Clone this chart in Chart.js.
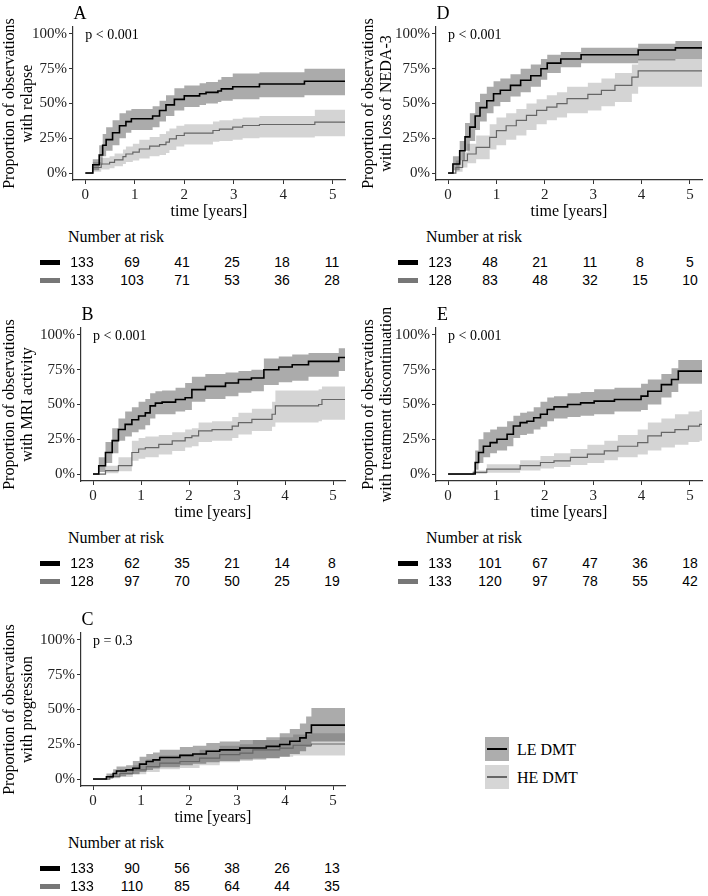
<!doctype html>
<html lang="en">
	<head>
		<meta charset="UTF-8" />
		<title>Cumulative incidence by DMT group</title>
		<script src="https://cdn.jsdelivr.net/npm/chart.js"></script>
		<style>
			body {
				margin: 0;
				background: #fff;
			}
			#page {
				position: relative;
				width: 708px;
				height: 896px;
				overflow: hidden;
				font-family: 'Liberation Serif', 'Times New Roman', serif;
				color: #000;
			}
			canvas {
				position: absolute;
			}
			.ctr {
				position: absolute;
				white-space: nowrap;
				line-height: 1;
				transform: translate(-50%, -50%);
			}
			.lft {
				position: absolute;
				white-space: nowrap;
				line-height: 1;
				transform: translateY(-50%);
			}
			.num {
				font-family: 'Liberation Sans', Arial, sans-serif;
				font-size: 14px;
			}
			.bar {
				position: absolute;
				width: 20px;
				height: 5px;
			}
			.key {
				position: absolute;
				width: 24px;
				height: 24px;
			}
			.key div {
				position: absolute;
				left: 2px;
				right: 2px;
				top: 11px;
			}
		</style>
	</head>
	<body>
		<div id="page"></div>

		<script>
			// axis ticks
			const xTicks = [0, 1, 2, 3, 4, 5]
			const yTicks = [0, 0.25, 0.5, 0.75, 1]

			// A - relapse
			const aTimeLE = [0, 0.15, 0.28, 0.35, 0.42, 0.55, 0.69, 0.82, 0.93, 1.36, 1.5, 1.63, 1.8, 2.0, 2.31, 2.44, 2.68, 2.75, 2.98, 3.52, 4.43, 5.25]
			const aEstLE = [0, 0.06, 0.13, 0.2, 0.24, 0.29, 0.34, 0.37, 0.39, 0.41, 0.45, 0.49, 0.53, 0.555, 0.57, 0.58, 0.59, 0.605, 0.62, 0.64, 0.66, 0.66]
			const aHiLE = [0, 0.1, 0.2, 0.28, 0.33, 0.38, 0.43, 0.45, 0.46, 0.48, 0.52, 0.56, 0.61, 0.63, 0.645, 0.655, 0.67, 0.69, 0.715, 0.725, 0.75, 0.75]
			const aLoLE = [0, 0.02, 0.06, 0.12, 0.16, 0.2, 0.25, 0.29, 0.31, 0.33, 0.37, 0.41, 0.45, 0.475, 0.49, 0.5, 0.51, 0.52, 0.53, 0.545, 0.56, 0.56]
			const aTimeHE = [0, 0.15, 0.32, 0.49, 0.59, 0.76, 0.82, 0.96, 1.09, 1.3, 1.5, 1.63, 1.7, 1.84, 2.0, 2.58, 2.71, 2.98, 3.18, 3.52, 4.64, 5.25]
			const aEstHE = [0, 0.04, 0.065, 0.077, 0.094, 0.118, 0.137, 0.15, 0.173, 0.193, 0.205, 0.222, 0.246, 0.27, 0.287, 0.306, 0.316, 0.33, 0.342, 0.349, 0.366, 0.366]
			const aHiHE = [0, 0.08, 0.11, 0.12, 0.14, 0.17, 0.19, 0.21, 0.24, 0.26, 0.28, 0.3, 0.32, 0.34, 0.35, 0.37, 0.38, 0.39, 0.4, 0.41, 0.455, 0.455]
			const aLoHE = [0, 0.01, 0.025, 0.035, 0.048, 0.065, 0.08, 0.09, 0.105, 0.12, 0.13, 0.145, 0.165, 0.19, 0.205, 0.225, 0.23, 0.24, 0.25, 0.255, 0.265, 0.265]
			const aRiskLE = [133, 69, 41, 25, 18, 11]
			const aRiskHE = [133, 103, 71, 53, 36, 28]

			// B - MRI activity
			const bTimeLE = [0, 0.12, 0.26, 0.4, 0.53, 0.67, 0.81, 0.95, 1.09, 1.19, 1.3, 1.44, 1.72, 1.92, 2.06, 2.34, 2.76, 3.03, 3.3, 3.56, 3.87, 4.15, 4.49, 5.12, 5.25]
			const bEstLE = [0, 0.06, 0.155, 0.24, 0.32, 0.357, 0.39, 0.417, 0.44, 0.49, 0.51, 0.517, 0.536, 0.548, 0.607, 0.63, 0.655, 0.68, 0.69, 0.75, 0.77, 0.786, 0.81, 0.838, 0.838]
			const bHiLE = [0, 0.12, 0.23, 0.33, 0.4, 0.45, 0.48, 0.52, 0.54, 0.58, 0.595, 0.6, 0.62, 0.655, 0.7, 0.72, 0.73, 0.74, 0.75, 0.83, 0.845, 0.86, 0.87, 0.905, 0.905]
			const bLoLE = [0, 0.015, 0.08, 0.15, 0.24, 0.27, 0.3, 0.32, 0.35, 0.4, 0.43, 0.43, 0.45, 0.46, 0.52, 0.54, 0.56, 0.585, 0.595, 0.64, 0.66, 0.67, 0.7, 0.74, 0.74]
			const bTimeHE = [0, 0.26, 0.53, 0.81, 0.95, 1.09, 1.37, 1.65, 1.92, 2.06, 2.2, 2.48, 2.9, 3.03, 3.31, 3.73, 3.8, 4.7, 4.77, 5.25]
			const bEstHE = [0, 0.024, 0.06, 0.155, 0.18, 0.19, 0.214, 0.238, 0.262, 0.274, 0.31, 0.32, 0.345, 0.37, 0.393, 0.43, 0.49, 0.5, 0.536, 0.536]
			const bHiHE = [0, 0.06, 0.12, 0.24, 0.26, 0.27, 0.28, 0.3, 0.32, 0.33, 0.37, 0.38, 0.41, 0.44, 0.47, 0.52, 0.6, 0.61, 0.63, 0.63]
			const bLoHE = [0, 0.005, 0.02, 0.095, 0.11, 0.12, 0.14, 0.165, 0.19, 0.2, 0.23, 0.24, 0.26, 0.285, 0.31, 0.34, 0.37, 0.38, 0.39, 0.39]
			const bRiskLE = [123, 62, 35, 21, 14, 8]
			const bRiskHE = [128, 97, 70, 50, 25, 19]

			// C - progression
			const cTimeLE = [0, 0.28, 0.42, 0.49, 0.69, 0.83, 0.97, 1.11, 1.25, 1.39, 1.81, 2.08, 2.36, 2.64, 3.06, 3.61, 3.89, 4.1, 4.31, 4.44, 4.55, 5.25]
			const cEstLE = [0, 0.017, 0.04, 0.058, 0.066, 0.078, 0.107, 0.126, 0.138, 0.155, 0.17, 0.18, 0.2, 0.21, 0.223, 0.235, 0.248, 0.272, 0.296, 0.333, 0.388, 0.388]
			const cHiLE = [0, 0.04, 0.07, 0.09, 0.1, 0.13, 0.16, 0.18, 0.19, 0.21, 0.23, 0.24, 0.26, 0.27, 0.28, 0.3, 0.33, 0.36, 0.4, 0.45, 0.51, 0.51]
			const cLoLE = [0, 0.003, 0.015, 0.02, 0.03, 0.035, 0.05, 0.065, 0.075, 0.085, 0.1, 0.11, 0.12, 0.13, 0.14, 0.15, 0.16, 0.18, 0.2, 0.23, 0.27, 0.27]
			const cTimeHE = [0, 0.35, 0.56, 0.83, 1.11, 1.39, 1.81, 2.22, 2.64, 3.06, 3.33, 3.89, 4.17, 4.55, 5.25]
			const cEstHE = [0, 0.017, 0.04, 0.066, 0.09, 0.114, 0.126, 0.15, 0.175, 0.187, 0.21, 0.223, 0.243, 0.252, 0.252]
			const cHiHE = [0, 0.035, 0.07, 0.1, 0.14, 0.17, 0.18, 0.21, 0.24, 0.25, 0.28, 0.3, 0.32, 0.33, 0.33]
			const cLoHE = [0, 0.005, 0.015, 0.035, 0.05, 0.07, 0.08, 0.1, 0.12, 0.13, 0.15, 0.16, 0.17, 0.17, 0.17]
			const cRiskLE = [133, 90, 56, 38, 26, 13]
			const cRiskHE = [133, 110, 85, 64, 44, 35]

			// D - loss of NEDA-3
			const dTimeLE = [0, 0.1, 0.24, 0.35, 0.45, 0.56, 0.66, 0.8, 0.94, 1.08, 1.29, 1.5, 1.71, 1.92, 2.05, 2.33, 2.75, 3.93, 4.7, 5.25]
			const dEstLE = [0, 0.065, 0.16, 0.26, 0.33, 0.41, 0.47, 0.52, 0.57, 0.595, 0.63, 0.667, 0.7, 0.75, 0.79, 0.82, 0.85, 0.885, 0.9, 0.9]
			const dHiLE = [0, 0.12, 0.23, 0.36, 0.43, 0.51, 0.57, 0.62, 0.66, 0.68, 0.71, 0.75, 0.78, 0.82, 0.85, 0.87, 0.9, 0.93, 0.95, 0.95]
			const dLoLE = [0, 0.02, 0.09, 0.16, 0.23, 0.31, 0.37, 0.43, 0.48, 0.51, 0.55, 0.58, 0.62, 0.67, 0.72, 0.76, 0.79, 0.81, 0.82, 0.82]
			const dTimeHE = [0, 0.16, 0.3, 0.4, 0.58, 0.86, 1.0, 1.2, 1.41, 1.62, 1.83, 2.04, 2.25, 2.46, 2.89, 3.17, 3.45, 3.8, 3.93, 5.25]
			const dEstHE = [0, 0.04, 0.09, 0.137, 0.185, 0.257, 0.305, 0.34, 0.378, 0.414, 0.45, 0.474, 0.499, 0.535, 0.566, 0.595, 0.63, 0.69, 0.735, 0.735]
			const dHiHE = [0, 0.09, 0.15, 0.21, 0.27, 0.35, 0.4, 0.43, 0.46, 0.5, 0.53, 0.56, 0.58, 0.62, 0.65, 0.68, 0.72, 0.78, 0.82, 0.82]
			const dLoHE = [0, 0.01, 0.04, 0.07, 0.1, 0.17, 0.2, 0.24, 0.27, 0.31, 0.35, 0.38, 0.4, 0.43, 0.45, 0.48, 0.51, 0.57, 0.62, 0.62]
			const dRiskLE = [123, 48, 21, 11, 8, 5]
			const dRiskHE = [128, 83, 48, 32, 15, 10]

			// E - treatment discontinuation
			const eTimeLE = [0, 0.52, 0.56, 0.63, 0.73, 0.87, 1.01, 1.22, 1.35, 1.49, 1.63, 1.77, 1.91, 2.05, 2.19, 2.47, 2.74, 3.02, 3.44, 3.99, 4.13, 4.41, 4.62, 4.76, 5.25]
			const eEstLE = [0, 0, 0.083, 0.155, 0.2, 0.226, 0.25, 0.286, 0.345, 0.37, 0.38, 0.405, 0.43, 0.464, 0.483, 0.5, 0.512, 0.524, 0.536, 0.56, 0.595, 0.643, 0.68, 0.74, 0.74]
			const eHiLE = [0, 0, 0.17, 0.25, 0.3, 0.32, 0.34, 0.38, 0.42, 0.44, 0.45, 0.48, 0.52, 0.55, 0.56, 0.58, 0.59, 0.61, 0.62, 0.65, 0.68, 0.72, 0.76, 0.82, 0.82]
			const eLoLE = [0, 0, 0.03, 0.08, 0.12, 0.15, 0.17, 0.2, 0.26, 0.28, 0.29, 0.32, 0.34, 0.38, 0.4, 0.41, 0.42, 0.43, 0.45, 0.46, 0.5, 0.55, 0.59, 0.65, 0.65]
			const eTimeHE = [0, 0.52, 0.8, 1.49, 1.91, 2.19, 2.53, 2.88, 3.23, 3.51, 3.92, 4.13, 4.41, 4.69, 4.97, 5.2, 5.25]
			const eEstHE = [0, 0.012, 0.036, 0.06, 0.083, 0.095, 0.12, 0.143, 0.167, 0.2, 0.226, 0.274, 0.3, 0.32, 0.345, 0.357, 0.357]
			const eHiHE = [0, 0.025, 0.07, 0.1, 0.13, 0.15, 0.18, 0.21, 0.24, 0.28, 0.32, 0.37, 0.4, 0.43, 0.45, 0.46, 0.46]
			const eLoHE = [0, 0.002, 0.01, 0.025, 0.04, 0.05, 0.065, 0.08, 0.1, 0.12, 0.14, 0.17, 0.19, 0.21, 0.23, 0.24, 0.24]
			const eRiskLE = [133, 101, 67, 47, 36, 18]
			const eRiskHE = [133, 120, 97, 78, 55, 42]

			const groupNames = ['LE DMT', 'HE DMT']

			const serif = 'Liberation Serif'
			Chart.defaults.font.family = serif
			Chart.defaults.color = '#222'

			const lineColors = ['#000', '#666']
			const bandColors = ['rgba(0,0,0,0.33)', 'rgba(0,0,0,0.17)']
			const barColors = ['#000', '#777']

			// layout of the five panels (left column / right column)
			const panels = [
				{ key: 'A', left: 0, top: 0, axisW: 73, padR: 9, titlePad: 1, letterX: 80, yTitle: 'with relapse', pText: 'p < 0.001',
					le: [aTimeLE, aEstLE, aLoLE, aHiLE], he: [aTimeHE, aEstHE, aLoHE, aHiHE], risk: [aRiskLE, aRiskHE] },
				{ key: 'B', left: 0, top: 301, axisW: 81, padR: 9, titlePad: 1, letterX: 87.5, yTitle: 'with MRI activity', pText: 'p < 0.001',
					le: [bTimeLE, bEstLE, bLoLE, bHiLE], he: [bTimeHE, bEstHE, bLoHE, bHiHE], risk: [bRiskLE, bRiskHE] },
				{ key: 'C', left: 0, top: 606, axisW: 81, padR: 9, titlePad: 1, letterX: 87.5, yTitle: 'with progression', pText: 'p = 0.3',
					le: [cTimeLE, cEstLE, cLoLE, cHiLE], he: [cTimeHE, cEstHE, cLoHE, cHiHE], risk: [cRiskLE, cRiskHE] },
				{ key: 'D', left: 354, top: 0, axisW: 82, padR: 6, titlePad: 6, letterX: 443, yTitle: 'with loss of NEDA-3', pText: 'p < 0.001',
					le: [dTimeLE, dEstLE, dLoLE, dHiLE], he: [dTimeHE, dEstHE, dLoHE, dHiHE], risk: [dRiskLE, dRiskHE] },
				{ key: 'E', left: 354, top: 301, axisW: 82, padR: 6, titlePad: 6, letterX: 442.5, yTitle: 'with treatment discontinuation', pText: 'p < 0.001',
					le: [eTimeLE, eEstLE, eLoLE, eHiLE], he: [eTimeHE, eEstHE, eLoHE, eHiHE], risk: [eRiskLE, eRiskHE] }
			]

			const page = document.getElementById('page')

			function addDiv(cls, text, x, y, css) {
				const d = document.createElement('div')
				d.className = cls
				d.textContent = text
				d.style.left = x + 'px'
				d.style.top = y + 'px'
				Object.assign(d.style, css || {})
				page.appendChild(d)
				return d
			}

			function pts(t, v) {
				return t.map((x, i) => ({ x: x, y: v[i] }))
			}

			// p-value text at (0, 100%)
			const pLabel = {
				id: 'pLabel',
				afterDatasetsDraw(chart, args, opts) {
					const { ctx, scales } = chart
					ctx.save()
					ctx.font = '14px "Liberation Serif"'
					ctx.fillStyle = '#000'
					ctx.textBaseline = 'middle'
					ctx.textAlign = 'left'
					ctx.fillText(opts.text, scales.x.getPixelForValue(0), scales.y.getPixelForValue(1) + 1)
					ctx.restore()
				}
			}

			function curve(data, color, width) {
				return { data: data, borderColor: color, borderWidth: width, stepped: true, pointRadius: 0, fill: false }
			}
			function edge(data, fill, bg) {
				return { data: data, borderColor: 'transparent', borderWidth: 0, backgroundColor: bg, stepped: true, pointRadius: 0, fill: fill }
			}

			panels.forEach((p) => {
				const canvas = document.createElement('canvas')
				canvas.width = 354
				canvas.height = 221
				canvas.style.left = p.left + 'px'
				canvas.style.top = p.top + 'px'
				page.appendChild(canvas)

				const [tL, eL, loL, hiL] = p.le
				const [tH, eH, loH, hiH] = p.he

				new Chart(canvas, {
					type: 'line',
					data: {
						datasets: [
							curve(pts(tL, eL), lineColors[0], 1.6),
							curve(pts(tH, eH), lineColors[1], 1.2),
							edge(pts(tL, hiL), '+1', bandColors[0]),
							edge(pts(tL, loL), false, 'transparent'),
							edge(pts(tH, hiH), '+1', bandColors[1]),
							edge(pts(tH, loH), false, 'transparent')
						]
					},
					options: {
						responsive: false,
						animation: false,
						events: [],
						layout: { padding: { left: 0, right: p.padR, top: 27, bottom: 0 } },
						plugins: {
							legend: { display: false },
							tooltip: { enabled: false },
							pLabel: { text: p.pText }
						},
						scales: {
							x: {
								type: 'linear',
								min: -0.25,
								max: 5.25,
								afterBuildTicks: (s) => {
									s.ticks = xTicks.map((v) => ({ value: v }))
								},
								afterFit: (s) => {
									s.height = 41
								},
								grid: { drawOnChartArea: false, drawTicks: true, tickLength: 4, color: '#333' },
								border: { display: true, color: '#333', width: 1.2 },
								ticks: { font: { family: serif, size: 15 }, color: '#222', padding: 2, maxRotation: 0, autoSkip: false },
								title: { display: true, text: 'time [years]', font: { family: serif, size: 16, lineHeight: 1.1 }, color: '#000', padding: 0 }
							},
							y: {
								type: 'linear',
								min: -0.05,
								max: 1.05,
								afterBuildTicks: (s) => {
									s.ticks = yTicks.map((v) => ({ value: v }))
								},
								afterFit: (s) => {
									s.width = p.axisW
								},
								grid: { drawOnChartArea: false, drawTicks: true, tickLength: 4, color: '#333' },
								border: { display: true, color: '#333', width: 1.2 },
								ticks: {
									font: { family: serif, size: 15 },
									color: '#222',
									padding: 2,
									callback: (v) => Math.round(v * 100) + '%'
								},
								title: {
									display: true,
									text: ['Proportion of observations', p.yTitle],
									font: { family: serif, size: 16, lineHeight: 1.1 },
									color: '#000',
									padding: { top: p.titlePad, bottom: 0 }
								}
							}
						}
					},
					plugins: [pLabel]
				})

				// panel letter
				addDiv('ctr', p.key, p.letterX, p.top + 13, { fontSize: '18px' })

				// number at risk table
				const dx = p.left === 0 ? 0 : 358
				addDiv('lft', 'Number at risk', 68 + dx, p.top + 237, { fontSize: '16px' })
				p.risk.forEach((row, g) => {
					const y = p.top + 262 + g * 18
					const bar = document.createElement('div')
					bar.className = 'bar'
					bar.style.left = 40 + dx + 'px'
					bar.style.top = y - 2.5 + 'px'
					bar.style.background = barColors[g]
					page.appendChild(bar)
					row.forEach((n, i) => {
						addDiv('ctr num', String(n), 82 + dx + i * 50, y)
					})
				})
			})

			// legend
			groupNames.forEach((name, g) => {
				const y = 737 + g * 28
				const box = document.createElement('div')
				box.className = 'key'
				box.style.left = '485px'
				box.style.top = y + 'px'
				box.style.background = g === 0 ? '#adadad' : '#d6d6d6'
				const ln = document.createElement('div')
				ln.style.height = g === 0 ? '2px' : '1.5px'
				ln.style.background = lineColors[g]
				box.appendChild(ln)
				page.appendChild(box)
				addDiv('lft', name, 517, y + 13, { fontSize: '16px' })
			})
		</script>
	</body>
</html>
